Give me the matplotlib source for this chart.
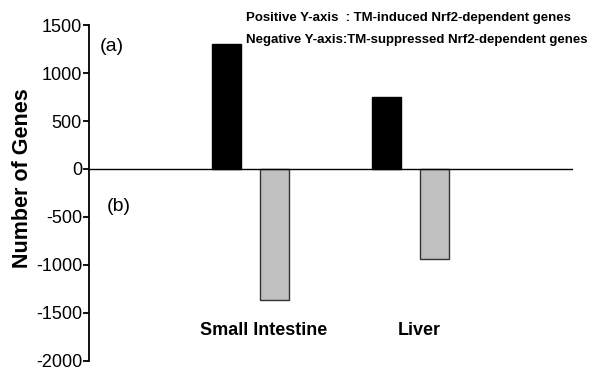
import matplotlib
matplotlib.use("Agg")
import matplotlib.pyplot as plt
import numpy as np

plt.rcParams['font.family'] = ['Liberation Sans', 'DejaVu Sans']
plt.rcParams['axes.unicode_minus'] = False

tissues = ['Small Intestine', 'Liver']
induced = [1300, 755]
suppressed = [-1365, -940]

fig = plt.figure(figsize=(5.93, 3.70), dpi=100)
ax = fig.add_axes([0.150, 0.025, 0.816, 0.907])

x = np.arange(len(tissues))
w = 0.18
off = 0.15
ax.bar(x - off, induced, w, color='black', edgecolor='black', linewidth=1)
ax.bar(x + off, suppressed, w, color='#c0c0c0', edgecolor='#333333', linewidth=1)

ax.axhline(0, color='black', linewidth=1)

ax.set_xlim(-1.006, 2.01)
ax.set_ylim(-2000, 1500)
ax.set_yticks(np.arange(-2000, 1501, 500))
ax.set_xticks([])
for s in ['top', 'right', 'bottom']:
    ax.spines[s].set_visible(False)
ax.spines['left'].set_linewidth(1.3)
ax.tick_params(axis='y', labelsize=13, length=4, width=1.3, pad=1)

fig.text(23 / 593, 1 - 178 / 370, 'Number of Genes', rotation=90,
         ha='center', va='center', fontsize=15.5, fontweight='bold')

for xi, name, dx in zip(x, tissues, [0.085, 0.055]):
    ax.text(xi + dx, -1680, name, ha='center', va='center',
            fontsize=13, fontweight='bold')

ax.text(0.022, 0.935, '(a)', transform=ax.transAxes, ha='left', va='center', fontsize=14)
ax.text(0.037, 0.46, '(b)', transform=ax.transAxes, ha='left', va='center', fontsize=14)

fig.text(246 / 593, 1 - 18 / 370, 'Positive Y-axis  : TM-induced Nrf2-dependent genes',
         ha='left', va='center', fontsize=9.5, fontweight='bold')
fig.text(246 / 593, 1 - 40 / 370, 'Negative Y-axis:TM-suppressed Nrf2-dependent genes',
         ha='left', va='center', fontsize=9.5, fontweight='bold')

fig.savefig('out.png', dpi=100)
